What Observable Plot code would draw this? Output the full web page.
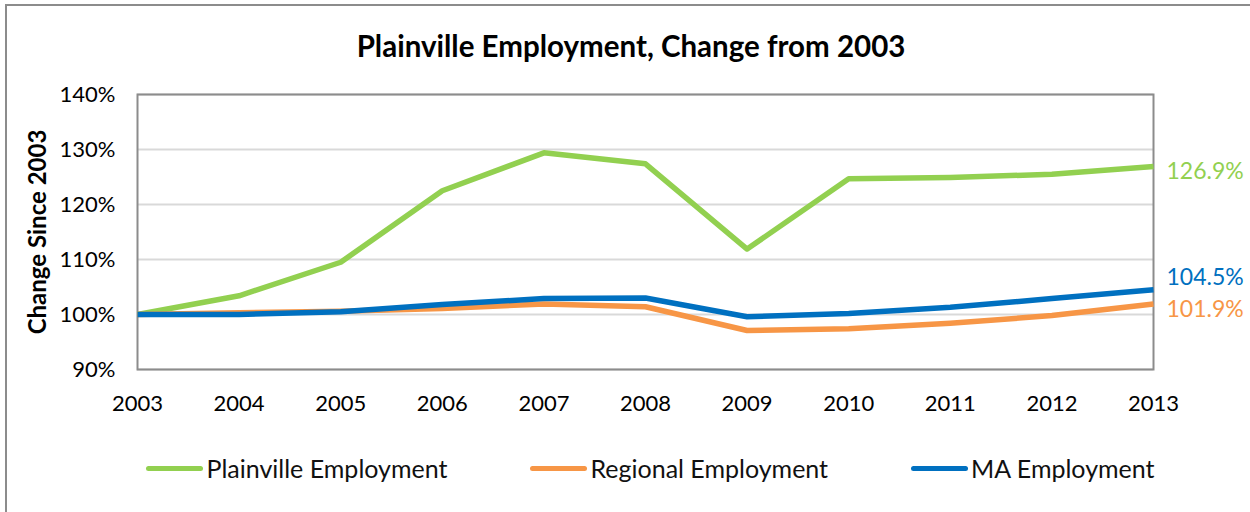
<!DOCTYPE html>
<html>
<head>
<meta charset="utf-8">
<script src="https://cdn.jsdelivr.net/npm/d3@7"></script>
<script src="https://cdn.jsdelivr.net/npm/@observablehq/plot@0.6"></script>
<style>
  html, body { margin: 0; padding: 0; background: #fff; overflow: hidden; width: 1250px; height: 512px; }
  body { position: relative; font-family: Lato, "Open Sans", sans-serif; }
  #frame { position: absolute; left: 5px; top: 4px; width: 1270px; height: 530px; border: 2px solid #8c8c8c; box-sizing: border-box; }
  #title { position: absolute; left: 0; top: 29px; width: 1262px; text-align: center; font-weight: 700; font-size: 29.5px; color: #000; line-height: 34px; }
  #chart { position: absolute; left: 0; top: 0; }
  #legend { position: absolute; left: 0; top: 453px; width: 1301px; display: flex; justify-content: center; gap: 83px; font-size: 25px; color: #111; line-height: 30px; }
  .item { display: flex; align-items: center; gap: 3px; }
  .sw { width: 57px; height: 5px; border-radius: 3px; }
</style>
</head>
<body>
<div id="frame"></div>
<div id="title"></div>
<div id="chart"></div>
<div id="legend"></div>
<script>
const chartTitle = "Plainville Employment, Change from 2003";
const yAxisTitle = "Change Since 2003";
const years = [2003, 2004, 2005, 2006, 2007, 2008, 2009, 2010, 2011, 2012, 2013];
const seriesNames = ["Plainville Employment", "Regional Employment", "MA Employment"];
const seriesColors = ["#92D050", "#F79646", "#0070C0"];
const plainville = [100, 103.4, 109.5, 122.5, 129.4, 127.4, 111.9, 124.7, 124.9, 125.5, 126.9];
const regional   = [100, 100.3, 100.6, 101.1, 101.9, 101.4, 97.1, 97.4, 98.4, 99.8, 101.9];
const ma         = [100, 100.0, 100.5, 101.8, 102.9, 103.0, 99.6, 100.2, 101.3, 102.9, 104.5];
const yTicks = [90, 100, 110, 120, 130, 140];

const seriesValues = [plainville, regional, ma];
const rows = seriesNames.flatMap((name, i) =>
  years.map((year, j) => ({series: name, year, value: seriesValues[i][j]})));
const lastRows = seriesNames.map((name, i) => ({series: name, year: years[years.length - 1], value: seriesValues[i][years.length - 1]}));
const fmt = v => v.toFixed(1) + "%";
// vertical nudges of the end labels: Plainville, Regional, MA
const labelDy = [5, 6, -12];

document.getElementById("title").textContent = chartTitle;

const W = 1250, H = 440;
const plot = Plot.plot({
  width: W,
  height: H,
  marginLeft: 137,
  marginRight: W - 1153,
  marginTop: 94,
  marginBottom: H - 369,
  style: {fontFamily: "Lato, 'Open Sans', sans-serif", fontSize: "22px", color: "#000", background: "transparent"},
  x: {domain: [years[0], years[years.length - 1]], ticks: years, tickFormat: "d"},
  y: {domain: [yTicks[0], yTicks[yTicks.length - 1]], ticks: yTicks},
  color: {domain: seriesNames, range: seriesColors},
  marks: [
    Plot.gridY(yTicks, {stroke: "#d9d9d9", strokeOpacity: 1, strokeWidth: 2}),
    Plot.frame({stroke: "#8c8c8c", strokeWidth: 2}),
    Plot.axisX({ticks: years, tickFormat: "d", tickSize: 0, tickPadding: 26, label: null, fontSize: 22}),
    Plot.axisY({ticks: yTicks, tickFormat: d => d + "%", tickSize: 0, tickPadding: 22, label: null, fontSize: 22}),
    Plot.text([yAxisTitle], {frameAnchor: "left", textAnchor: "middle", rotate: -90, dx: -99, fontWeight: "bold", fontSize: 24, text: d => d, fill: "#000"}),
    Plot.line(rows, {x: "year", y: "value", z: "series", stroke: "series", strokeWidth: 5.5, strokeLinejoin: "round", strokeLinecap: "butt"}),
    ...lastRows.map((r, i) => Plot.text([r], {x: "year", y: "value", text: d => fmt(d.value), fill: seriesColors[i], textAnchor: "start", dx: 13, dy: labelDy[i], fontSize: 23}))
  ]
});
document.getElementById("chart").appendChild(plot);

const legend = document.getElementById("legend");
seriesNames.forEach((name, i) => {
  const item = document.createElement("div");
  item.className = "item";
  const sw = document.createElement("span");
  sw.className = "sw";
  sw.style.background = seriesColors[i];
  const t = document.createElement("span");
  t.textContent = name;
  item.appendChild(sw);
  item.appendChild(t);
  legend.appendChild(item);
});
</script>
</body>
</html>
